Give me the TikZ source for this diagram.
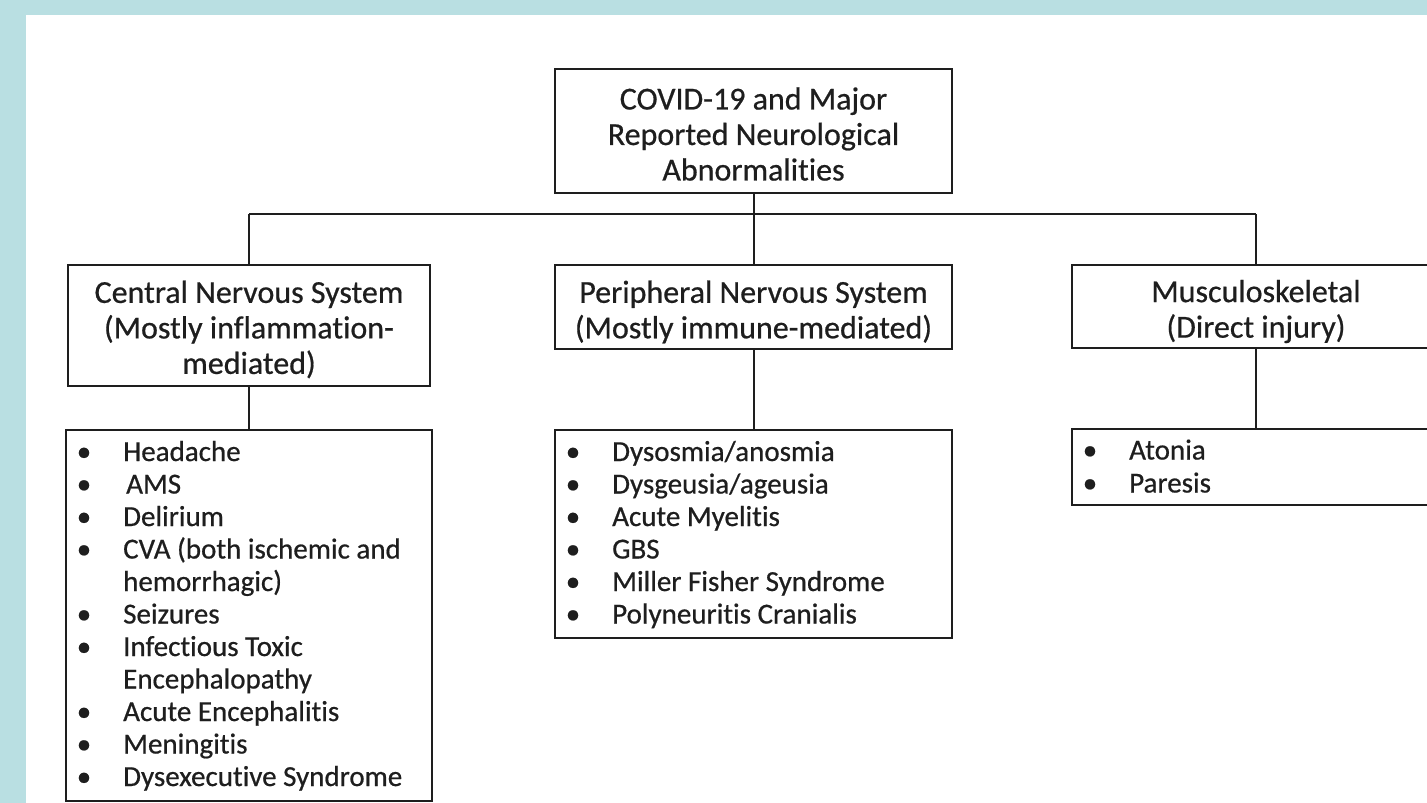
\documentclass[tikz,border=0pt]{standalone}
\usepackage{fontspec}
\setmainfont{Carlito}[Ligatures={NoCommon}, UprightFeatures={FakeBold=0.6}]
\definecolor{bgblue}{RGB}{185,223,226}
\definecolor{ink}{RGB}{30,30,30}
\tikzset{
  hbox/.style={draw=ink, line width=2pt, fill=white, inner sep=0pt},
  htxt/.style={inner sep=0pt, align=center, text=ink, font=\fontsize{32}{35.5}\selectfont},
  lbox/.style={draw=ink, line width=2pt, fill=white, inner sep=0pt},
  bul/.style={anchor=base, inner sep=0pt, text=ink, font=\fontsize{29}{32.5}\selectfont},
  itm/.style={anchor=base west, inner sep=0pt, text=ink, font=\fontsize{29}{32.5}\selectfont},
  conn/.style={draw=ink, line width=2pt}
}
\newcommand{\blt}[4]{\node[bul] (#1b) at (#2+18,#3) {•};\node[itm] (#1) at (#2+57,#3) {#4};}
\newcommand{\cnt}[4]{\node[itm] (#1) at (#2+57,#3) {#4};}
\begin{document}
\begin{tikzpicture}[x=1pt,y=-1pt]
\useasboundingbox (0,0) rectangle (1427,803);
\fill[bgblue] (0,0) rectangle (1427,803);
\fill[white] (26,15) rectangle (1427,803);
\clip (26,15) rectangle (1427,803);
% header boxes
\node[hbox, minimum width=397pt, minimum height=124pt] (top) at (753.5,131) {};
\node[htxt] (topt) at (753.5,134) {COVID-19 and Major\\Reported Neurological\\Abnormalities};
\node[hbox, minimum width=362pt, minimum height=121pt] (cns) at (249,325.5) {};
\node[htxt] (cnst) at (249,329.5) {Central Nervous System\\(Mostly inflammation-\\mediated)};
\node[hbox, minimum width=397pt, minimum height=84pt] (pns) at (753.5,307) {};
\node[htxt] (pnst) at (753.5,312) {Peripheral Nervous System\\(Mostly immune-mediated)};
\node[hbox, minimum width=368pt, minimum height=83pt] (msk) at (1256,306.5) {};
\node[htxt] (mskt) at (1256,311.5) {Musculoskeletal\\(Direct injury)};
% list boxes
\node[lbox, minimum width=366pt, minimum height=371pt] (cnsL) at (249,615.5) {};
\node[lbox, minimum width=397pt, minimum height=208pt] (pnsL) at (753.5,534) {};
\node[lbox, minimum width=368pt, minimum height=76pt] (mskL) at (1256,467) {};
% connectors
\coordinate (busC) at (753.5,214);
\coordinate (busL) at (249,214);
\coordinate (busR) at (1256,214);
\draw[conn] (top.south) -- (busC);
\draw[conn] (busL) -- (busR);
\draw[conn] (busL) -- (cns.north);
\draw[conn] (busC) -- (pns.north);
\draw[conn] (busR) -- (msk.north);
\draw[conn] (cns.south) -- (cnsL.north);
\draw[conn] (pns.south) -- (pnsL.north);
\draw[conn] (msk.south) -- (mskL.north);
% CNS list
\blt{c1}{66}{461}{Headache}
\blt{c2}{66}{493.5}{\hspace{3pt}AMS}
\blt{c3}{66}{526}{Delirium}
\blt{c4}{66}{558.5}{CVA (both ischemic and}
\cnt{c5}{66}{591}{hemorrhagic)}
\blt{c6}{66}{623.5}{Seizures}
\blt{c7}{66}{656}{Infectious Toxic}
\cnt{c8}{66}{688.5}{Encephalopathy}
\blt{c9}{66}{721}{Acute Encephalitis}
\blt{c10}{66}{753.5}{Meningitis}
\blt{c11}{66}{786}{Dysexecutive Syndrome}
% PNS list
\blt{p1}{555}{461}{Dysosmia/anosmia}
\blt{p2}{555}{493.5}{Dysgeusia/ageusia}
\blt{p3}{555}{526}{Acute Myelitis}
\blt{p4}{555}{558.5}{GBS}
\blt{p5}{555}{591}{Miller Fisher Syndrome}
\blt{p6}{555}{623.5}{Polyneuritis Cranialis}
% MSK list
\blt{m1}{1072}{459.5}{Atonia}
\blt{m2}{1072}{492.5}{Paresis}
\end{tikzpicture}
\end{document}
